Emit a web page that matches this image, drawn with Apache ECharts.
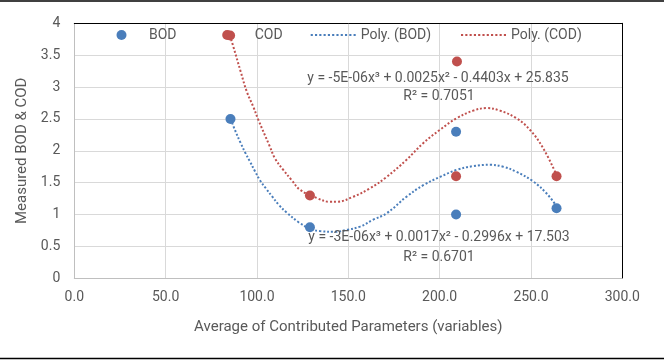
<!DOCTYPE html>
<html>
<head>
<meta charset="utf-8">
<script src="https://cdn.jsdelivr.net/npm/echarts@6/dist/echarts.min.js"></script>
<style>
html,body{margin:0;padding:0;background:#fff;}
#chart{width:664px;height:360px;}
</style>
</head>
<body>
<div id="chart"></div>
<script>
// Measured points (x = average of contributed parameters)
const xValues = [85.5, 129, 209, 209, 264];
const bodValues = [2.5, 0.8, 1.0, 2.3, 1.1];
const codXValues = [85.3, 129, 209, 209.5, 264];
const codValues = [3.81, 1.3, 1.6, 3.4, 1.6];

// Trendline curves
const polyBodX = [85.6, 87.6, 91.1, 93.6, 96.2, 98.9, 101.6, 104.9, 108.4, 112.0, 116.3, 122.8, 129, 134.5, 142.7, 149.1, 156.4, 163.7, 171.0, 181.9, 191.0, 200.2, 209.3, 218.4, 227.5, 234.8, 242.1, 251.2, 258.6, 264.0];
const polyBodY = [2.50, 2.35, 2.12, 1.97, 1.83, 1.68, 1.54, 1.41, 1.28, 1.15, 1.03, 0.88, 0.78, 0.74, 0.73, 0.76, 0.81, 0.92, 1.02, 1.28, 1.46, 1.59, 1.70, 1.76, 1.78, 1.75, 1.67, 1.52, 1.33, 1.13];
const polyCodX = [85.2, 87.0, 91.1, 94.4, 98.0, 100.7, 106.7, 109.9, 114.4, 119.0, 123.5, 132.7, 140.0, 143.6, 152.7, 161.8, 171.0, 181.9, 191.0, 200.2, 209.3, 218.4, 225.7, 233.0, 242.1, 249.4, 256.7, 264.0];
const polyCodY = [3.81, 3.64, 3.24, 2.93, 2.69, 2.49, 2.09, 1.88, 1.70, 1.54, 1.39, 1.26, 1.20, 1.20, 1.28, 1.41, 1.59, 1.86, 2.12, 2.33, 2.51, 2.63, 2.67, 2.63, 2.51, 2.33, 2.04, 1.62];

const xTicks = [0, 50, 100, 150, 200, 250, 300];
const yTicks = [0, 0.5, 1, 1.5, 2, 2.5, 3, 3.5, 4];

const eqCod = 'y = -5E-06x³ + 0.0025x² - 0.4403x + 25.835';
const r2Cod = 'R² = 0.7051';
const eqBod = 'y = -3E-06x³ + 0.0017x² - 0.2996x + 17.503';
const r2Bod = 'R² = 0.6701';

const BLUE = '#4a7ebb';
const RED = '#c0504d';
const TXT = '#595959';
const FONT = 'Roboto';

const zip = (a, b) => a.map((v, i) => [v, b[i]]);

// dotted legend icon
let dots = 'path://';
for (let i = 0; i < 11; i++) dots += 'M' + (i * 4) + ',0h2v2h-2z';

const legendBase = {
  top: 28, padding: 0, itemWidth: 45, itemHeight: 10, itemGap: 0,
  textStyle: { color: TXT, fontSize: 14, fontFamily: FONT }
};

const chart = echarts.init(document.getElementById('chart'));
const option = {
  backgroundColor: '#fff',
  animation: false,
  textStyle: { fontFamily: FONT },
  grid: { left: 74.3, right: 41.7, top: 23.3, bottom: 81.7, show: false },
  legend: [
    Object.assign({}, legendBase, { left: 116.5, data: [{ name: 'BOD', icon: 'circle' }] }),
    Object.assign({}, legendBase, { left: 222.2, data: [{ name: 'COD', icon: 'circle' }] }),
    Object.assign({}, legendBase, { left: 310.7, data: [{ name: 'Poly. (BOD)', icon: dots }] }),
    Object.assign({}, legendBase, { left: 461, data: [{ name: 'Poly. (COD)', icon: dots }] })
  ],
  xAxis: [{
    type: 'value', min: xTicks[0], max: xTicks[xTicks.length - 1], interval: 50,
    name: 'Average of Contributed Parameters (variables)',
    nameLocation: 'middle', nameGap: 41,
    nameTextStyle: { color: TXT, fontSize: 15, fontFamily: FONT },
    axisLine: { show: true, lineStyle: { color: '#bfbfbf', width: 1 } },
    axisTick: { show: false },
    axisLabel: { color: TXT, fontSize: 14, margin: 12, formatter: v => v.toFixed(1) },
    splitLine: { show: true, lineStyle: { color: '#d9d9d9', width: 1 } }
  }, {
    type: 'value', position: 'top', min: 0, max: 300, interval: 50,
    axisLine: { show: true, onZero: false, lineStyle: { color: '#000', width: 1 } },
    axisTick: { show: false }, axisLabel: { show: false }, splitLine: { show: false }
  }],
  yAxis: [{
    type: 'value', min: yTicks[0], max: yTicks[yTicks.length - 1], interval: 0.5,
    name: 'Measured BOD & COD',
    nameLocation: 'middle', nameGap: 43.5,
    nameTextStyle: { color: TXT, fontSize: 15, fontFamily: FONT },
    axisLine: { show: true, lineStyle: { color: '#bfbfbf', width: 1 } },
    axisTick: { show: false },
    axisLabel: { color: TXT, fontSize: 14, margin: 14 },
    splitLine: { show: true, lineStyle: { color: '#d9d9d9', width: 1 } }
  }, {
    type: 'value', position: 'right', min: 0, max: 4, interval: 0.5,
    axisLine: { show: true, onZero: false, lineStyle: { color: '#000', width: 1 } },
    axisTick: { show: false }, axisLabel: { show: false }, splitLine: { show: false }
  }],
  series: [
    {
      name: 'Poly. (BOD)', type: 'line', symbol: 'none', smooth: 0.4,
      data: zip(polyBodX, polyBodY),
      itemStyle: { color: BLUE },
      lineStyle: { color: BLUE, width: 2, type: [2, 2] }, z: 2
    },
    {
      name: 'Poly. (COD)', type: 'line', symbol: 'none', smooth: 0.4,
      data: zip(polyCodX, polyCodY),
      itemStyle: { color: RED },
      lineStyle: { color: RED, width: 2, type: [2, 2] }, z: 2
    },
    {
      name: 'BOD', type: 'scatter', symbol: 'circle', symbolSize: 10,
      data: zip(xValues, bodValues), itemStyle: { color: BLUE, opacity: 1 }, z: 3
    },
    {
      name: 'COD', type: 'scatter', symbol: 'circle', symbolSize: 10,
      data: zip(codXValues, codValues), itemStyle: { color: RED, opacity: 1 }, z: 3
    }
  ],
  graphic: [
    { type: 'line', shape: { x1: 0, y1: 1, x2: 664, y2: 1 }, style: { stroke: '#000', lineWidth: 1.5 } },
    { type: 'line', shape: { x1: 0, y1: 358.5, x2: 664, y2: 358.5 }, style: { stroke: '#000', lineWidth: 1.5 } },
    { type: 'text', x: 438, y: 78.3, style: { text: eqCod, fill: TXT, font: '14px Roboto', textAlign: 'center', textVerticalAlign: 'middle' }, z: 10 },
    { type: 'text', x: 439, y: 96.7, style: { text: r2Cod, fill: TXT, font: '14px Roboto', textAlign: 'center', textVerticalAlign: 'middle' }, z: 10 },
    { type: 'text', x: 439, y: 237.7, style: { text: eqBod, fill: TXT, font: '14px Roboto', textAlign: 'center', textVerticalAlign: 'middle' }, z: 10 },
    { type: 'text', x: 439, y: 257.7, style: { text: r2Bod, fill: TXT, font: '14px Roboto', textAlign: 'center', textVerticalAlign: 'middle' }, z: 10 }
  ]
};
chart.setOption(option);
</script>
</body>
</html>
